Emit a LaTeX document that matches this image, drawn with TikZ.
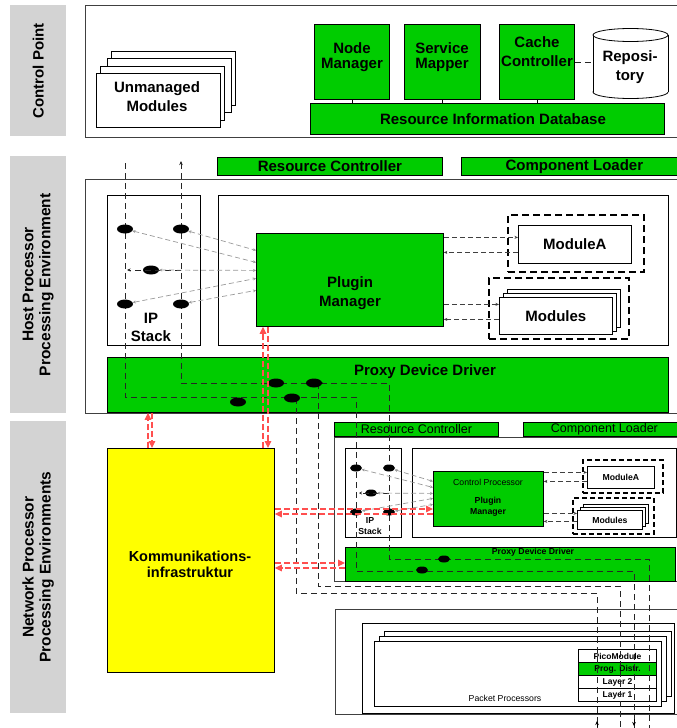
\documentclass[tikz,border=0pt]{standalone}
\usepackage{fontspec}
\setmainfont{Liberation Sans}
\usetikzlibrary{shapes.geometric,arrows.meta,calc}
\definecolor{gr}{HTML}{00CC00}
\definecolor{lg}{HTML}{D3D3D3}
\definecolor{yl}{HTML}{FFFF00}
\definecolor{rd}{HTML}{FF3030}
\newcommand\fsz[2]{\fontsize{#1}{#2}\selectfont}
\newcommand\mybox[7]{\node[#1, anchor=north west, minimum width={#5-#3}, minimum height={#6-#4}, inner sep=0pt] (#2) at (#3,#4) {#7};}
\begin{document}
\begin{tikzpicture}[x=1pt,y=-1pt,
  fr/.style={draw=black!75, line width=1.3pt},
  wb/.style={draw=black, line width=0.8pt, fill=white},
  gb/.style={draw=black, line width=0.8pt, fill=gr},
  lb/.style={fill=lg, draw=none},
  tb/.style={font=\bfseries\fsz{15}{19}, align=center, inner sep=0pt},
  ts/.style={font=\bfseries\fsz{8.7}{11}, align=center, inner sep=0pt},
  tn/.style={font=\fsz{8.7}{11}, inner sep=0pt},
  dbox/.style={draw=black, line width=2.4pt, dash pattern=on 7pt off 4pt},
  dbs/.style={draw=black, line width=1.9pt, dash pattern=on 5pt off 3pt},
  wire/.style={draw=black!85, line width=0.8pt, dash pattern=on 6pt off 4pt},
  gwire/.style={draw=black!40, line width=0.7pt, dash pattern=on 5pt off 3pt, {Stealth[length=3pt,width=3pt]}-{Stealth[length=3pt,width=3pt]}},
  mwire/.style={draw=black!75, line width=0.7pt, dash pattern=on 5pt off 3pt, -{Stealth[length=3.5pt,width=3pt]}},
  rwire/.style={draw=rd!85, line width=1.2pt, dash pattern=on 6pt off 3pt, -{Triangle[length=7pt,width=6.5pt]}},
  blob/.style={ellipse, fill=black, minimum width=16pt, minimum height=9pt, inner sep=0pt},
  sblob/.style={ellipse, fill=black, minimum width=12pt, minimum height=7pt, inner sep=0pt},
]
\useasboundingbox (0,0) rectangle (677,728);
\fill[white] (0,0) rectangle (677,728);

% ---------- side labels
\mybox{lb}{cpL}{10}{5}{66}{136}{}
\node[tb, rotate=90] (cpT) at (cpL.center) {Control Point};
\mybox{lb}{hpL}{10}{156}{66}{413}{}
\node[tb, font=\bfseries\fsz{15.5}{17}, rotate=90] (hpT) at (hpL.center) {Host Processor\\Processing Environment};
\mybox{lb}{npL}{10}{421}{66}{713}{}
\node[tb, font=\bfseries\fsz{15.5}{17}, rotate=90] (npT) at (npL.center) {Network Processor\\Processing Environments};

% ---------- control point
\mybox{fr, fill=white}{cpF}{85}{5}{700}{137}{}
\mybox{wb}{um4}{111}{51}{235}{105}{}
\mybox{wb}{um3}{107}{58}{231}{112}{}
\mybox{wb}{um2}{100}{66}{224}{120}{}
\mybox{wb}{um1}{96}{73}{220}{127}{}
\node[tb] (umT) at (157,97) {Unmanaged\\Modules};
\mybox{gb}{nm}{314}{24}{389}{99}{}
\node[tb, font=\bfseries\fsz{15}{15}] (nmT) at (352,57) {Node\\Manager};
\mybox{gb}{sm}{404}{24}{480}{99}{}
\node[tb, font=\bfseries\fsz{15}{15}] (smT) at (442,57) {Service\\Mapper};
\mybox{gb}{cc}{499}{24}{574}{99}{}
\node[tb] (ccT) at (537,52) {Cache\\Controller};
% repository cylinder
\draw[line width=0.8pt, fill=white] (630.5,92) ellipse [x radius=37.5, y radius=6.5];
\fill[white] (593,35) rectangle (668,92);
\draw[line width=0.8pt] (593,35) -- (593,92) (668,35) -- (668,92);
\draw[line width=0.8pt, fill=white] (630.5,35) ellipse [x radius=37.5, y radius=6.5];
\node[tb] (repo) at (630,67) {Reposi-\\tory};
\coordinate (repoW) at (593,62);
\draw[wire] (cc.east |- repoW) -- (repoW);
\mybox{gb}{rid}{310}{103}{664}{134}{}
\node[tb] (ridT) at (493,119) {Resource Information Database};
\draw[line width=0.6pt] (nm.south) -- (nm.south |- rid.north) (sm.south) -- (sm.south |- rid.north) (cc.south) -- (cc.south |- rid.north);

% ---------- host processor
\mybox{gb, font=\bfseries\fsz{15}{19}}{hrc}{217}{157}{442}{175}{Resource Controller}
\mybox{gb, font=\bfseries\fsz{15}{19}}{hcl}{461}{157}{687}{175}{Component Loader}
\mybox{fr, fill=white}{hF}{85}{179}{700}{413}{}
\mybox{wb}{hip}{107}{195}{200}{345}{}
\node[tb, font=\bfseries\fsz{15}{18}] (hipT) at (151,327) {IP\\Stack};
\mybox{wb}{hin}{218}{195}{668}{345}{}
\mybox{gb}{hpm}{256}{233}{443}{326}{}
\node[tb] (hpmT) at (350,293) {Plugin\\Manager};
\mybox{dbox}{hmaD}{507}{214}{643}{271}{}
\mybox{wb, font=\bfseries\fsz{15}{19}}{hma}{518}{225}{631}{263}{ModuleA}
\mybox{dbox}{hmsD}{488}{277}{628}{338}{}
\mybox{wb}{hms3}{507}{289}{620}{327}{}
\mybox{wb}{hms2}{503}{293}{616}{331}{}
\mybox{wb, font=\bfseries\fsz{15}{19}}{hms}{499}{297}{612}{334}{Modules}
\mybox{gb}{hpdd}{107}{357}{668}{412}{}
\node[tb] (hpddT) at (425,372) {Proxy Device Driver};

\coordinate (hmaIn) at ($(hma.west)+(0,-7)$);
\coordinate (hmaOut) at ($(hma.west)+(0,8)$);
\coordinate (hmsIn) at ($(hms.west)+(0,-11.5)$);
\coordinate (hmsOut) at ($(hms.west)+(0,3.5)$);
\draw[mwire] (hpm.east |- hmaIn) -- (hmaIn);
\draw[mwire] (hmaOut) -- (hpm.east |- hmaOut);
\draw[mwire] (hpm.east |- hmsIn) -- (hmsIn);
\draw[mwire] (hmsOut) -- (hpm.east |- hmsOut);

% ---------- kommunikationsinfrastruktur
\mybox{draw=black, line width=0.8pt, fill=yl}{kom}{107}{448}{274}{672}{}
\node[tb, font=\bfseries\fsz{14.5}{16}] (komT) at (190,564) {Kommunikations-\\infrastruktur};

% ---------- network processor
\mybox{gb, font=\fsz{12.5}{14}}{nrc}{334}{422}{498}{436}{Resource Controller}
\mybox{gb, font=\fsz{12.5}{14}}{ncl}{523}{422}{685}{436}{Component Loader}
\mybox{draw=black!75, line width=1pt, fill=white}{nF}{334}{437}{700}{581}{}
\mybox{wb}{nip}{345}{448}{401}{537}{}
\node[ts] (nipT) at (370,526) {IP\\Stack};
\mybox{wb}{nin}{412}{448}{676}{537}{}
\mybox{gb}{npm}{433}{471}{543}{526}{}
\node[tn] (npmC) at (488,482) {Control Processor};
\node[ts] (npmT) at (488,507) {Plugin\\Manager};
\mybox{dbs}{nmaD}{582}{459}{662}{492}{}
\mybox{wb, font=\bfseries\fsz{8.7}{11}}{nma}{587}{466}{654}{488}{ModuleA}
\mybox{dbs}{nmsD}{572}{497}{653}{533}{}
\mybox{wb}{nms3}{583}{504}{648}{523}{}
\mybox{wb}{nms2}{580}{507}{645}{526}{}
\mybox{wb, font=\bfseries\fsz{8.7}{11}}{nms}{577}{510}{642}{529}{Modules}
\mybox{gb}{npdd}{345}{547}{675}{581}{}
\node[ts] (npddT) at (533,552) {Proxy Device Driver};

\coordinate (nmaIn) at ($(nma.west)+(0,-5)$);
\coordinate (nmaOut) at ($(nma.west)+(0,4)$);
\coordinate (nmsIn) at ($(nms.west)+(0,-6.5)$);
\coordinate (nmsOut) at ($(nms.west)+(0,1.5)$);
\draw[mwire] (npm.east |- nmaIn) -- (nmaIn);
\draw[mwire] (nmaOut) -- (npm.east |- nmaOut);
\draw[mwire] (npm.east |- nmsIn) -- (nmsIn);
\draw[mwire] (nmsOut) -- (npm.east |- nmsOut);

% ---------- packet processors
\mybox{draw=black!75, line width=1pt, fill=white}{ppF}{335}{609}{700}{714}{}
\mybox{wb}{ppB}{362}{623}{674}{713}{}
\mybox{wb}{pp3}{384}{631}{671}{696}{}
\mybox{wb}{pp2}{379}{636}{666}{701}{}
\mybox{wb}{pp1}{374}{641}{661}{706}{}
\node[tn] (ppT) at (505,698) {Packet Processors};
\mybox{wb, line width=1.1pt, font=\bfseries\fsz{8.5}{10}}{pico}{578}{649}{656}{662}{PicoModule}
\mybox{gb, line width=1.1pt, font=\bfseries\fsz{8.5}{10}}{pdis}{578}{662}{656}{675}{Prog. Distr.}
\mybox{wb, line width=1.1pt, font=\bfseries\fsz{8.5}{10}}{lay2}{578}{675}{656}{688}{Layer 2}
\mybox{wb, line width=1.1pt, font=\bfseries\fsz{8.5}{10}}{lay1}{578}{688}{656}{701}{Layer 1}

% ---------- black dashed wires
\draw[wire] (125,163) -- (125,397) -- (356,397) -- (356,571) -- (634,571) -- (634,728);
\draw[wire, {Stealth[length=4pt,width=3.5pt]}-] (181,161) -- (181,383) -- (389,383) -- (389,559) -- (649,559) -- (649,728);
\draw[wire] (296,398) -- (296,593) -- (597,593) -- (597,728);
\draw[wire] (318,383) -- (318,586) -- (620,586) -- (620,728);

% ---------- ellipses
\node[blob] (he1) at (125,229) {};
\node[blob] (he2) at (181,229) {};
\node[blob] (he3) at (151,270) {};
\node[blob] (he4) at (125,304) {};
\node[blob] (he5) at (181,304) {};
\node[blob] (hp1) at (276,383) {};
\node[blob] (hp2) at (314,383) {};
\node[blob] (hp3) at (238,402) {};
\node[blob] (hp4) at (292,398) {};
\node[sblob] (ne1) at (356,468) {};
\node[sblob] (ne2) at (389,468) {};
\node[sblob] (ne3) at (371,493) {};
\node[sblob] (ne4) at (356,512) {};
\node[sblob] (ne5) at (389,512) {};
\node[sblob] (np1) at (444,559) {};
\node[sblob] (np2) at (422,570) {};

\coordinate (hArr) at (127,270);
\draw[wire, -{Stealth[length=3.5pt,width=3pt]}] (he5 |- he3) -- (hArr);
\coordinate (nArr) at (359,493);
\draw[wire, -{Stealth[length=3pt,width=3pt]}] (ne5 |- ne3) -- (nArr);
\draw[black, -{Stealth[length=5pt,width=4pt]}] (hp2.east) -- ++(1,0);
\coordinate (pEnd) at (597,721);
\draw[black, -{Stealth[length=4pt,width=3.5pt]}] (597,727) -- (pEnd);
\coordinate (aEnd) at (634,726);
\draw[black, -{Stealth[length=4pt,width=3.5pt]}] (634,719) -- (aEnd);

% ---------- gray dashed connectors
\draw[gwire] (he2) -- ($(hpm.west)+(0,-29.5)$);
\draw[gwire] (he1) -- ($(hpm.west)+(0,-17.5)$);
\draw[gwire] (he3) -- ($(hpm.west)+(0,-9.5)$);
\draw[gwire] (he4) -- ($(hpm.west)+(0,-1.5)$);
\draw[gwire] (he5) -- ($(hpm.west)+(0,10.5)$);
\draw[gwire] (ne2) -- ($(npm.west)+(0,-17.5)$);
\draw[gwire] (ne1) -- ($(npm.west)+(0,-11.5)$);
\draw[gwire] (ne3) -- ($(npm.west)+(0,-5.5)$);
\draw[gwire] (ne4) -- ($(npm.west)+(0,-0.5)$);
\draw[gwire] (ne5) -- ($(npm.west)+(0,5.5)$);

% ---------- red connectors
\coordinate (xr1) at (148,0);
\coordinate (xr2) at (152,0);
\coordinate (xr3) at (263,0);
\coordinate (xr4) at (268,0);
\coordinate (yr5) at (0,509);
\coordinate (yr6) at (0,514);
\coordinate (yr7) at (0,563);
\coordinate (yr8) at (0,568);
\draw[rwire] (kom.north -| xr1) -- (hpdd.south -| xr1);
\draw[rwire] (hpdd.south -| xr2) -- (kom.north -| xr2);
\draw[rwire] (kom.north -| xr3) -- (hpm.south -| xr3);
\draw[rwire] (hpm.south -| xr4) -- (kom.north -| xr4);
\draw[rwire] (kom.east |- yr5) -- (npm.west |- yr5);
\draw[rwire] (npm.west |- yr6) -- (kom.east |- yr6);
\draw[rwire] (kom.east |- yr7) -- (npdd.west |- yr7);
\draw[rwire] (npdd.west |- yr8) -- (kom.east |- yr8);
\end{tikzpicture}
\end{document}
